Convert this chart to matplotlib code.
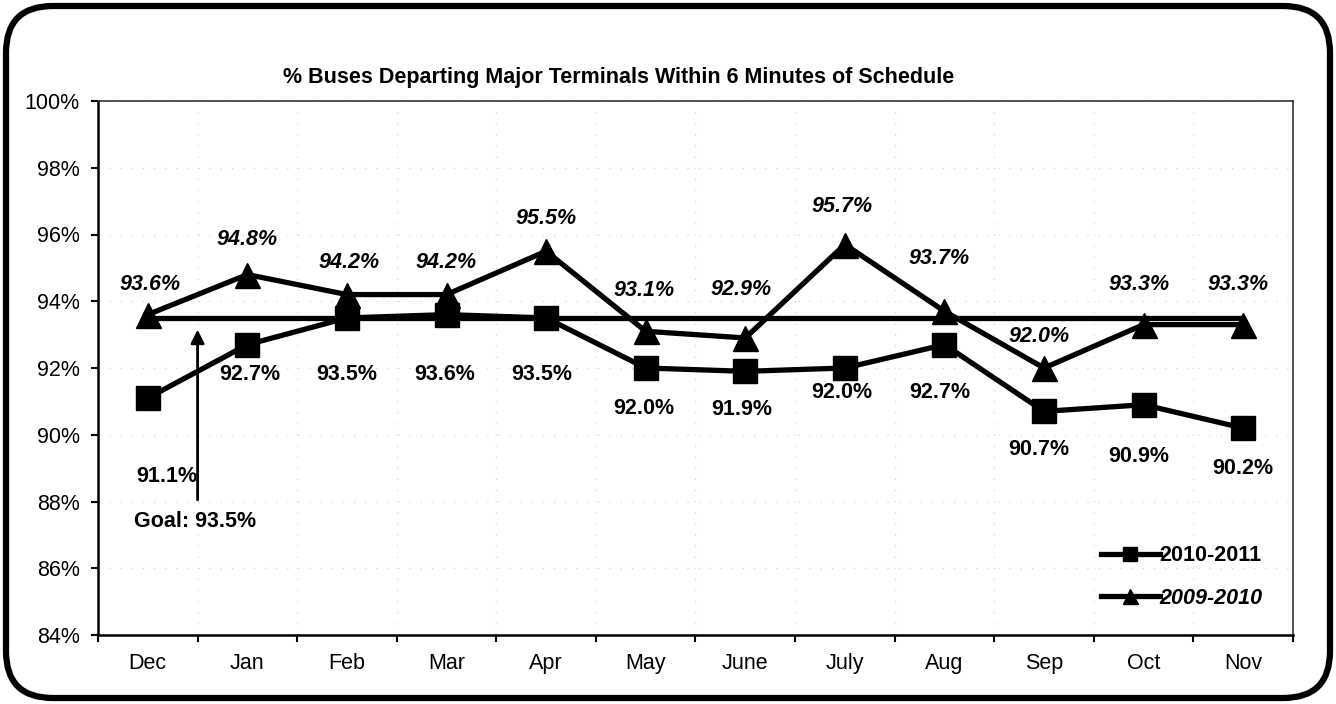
import numpy as np
import matplotlib
matplotlib.use("Agg")
import matplotlib.pyplot as plt
from matplotlib.patches import FancyBboxPatch

# ---- data ----
months = ["Dec", "Jan", "Feb", "Mar", "Apr", "May", "June", "July", "Aug", "Sep", "Oct", "Nov"]
s2010_2011 = [91.1, 92.7, 93.5, 93.6, 93.5, 92.0, 91.9, 92.0, 92.7, 90.7, 90.9, 90.2]
s2009_2010 = [93.6, 94.8, 94.2, 94.2, 95.5, 93.1, 92.9, 95.7, 93.7, 92.0, 93.3, 93.3]
goal = 93.5
yticks = [84, 86, 88, 90, 92, 94, 96, 98, 100]
title = "% Buses Departing Major Terminals Within 6 Minutes of Schedule"

# label offsets in pixels (layout only)
off_2010 = [(19, -78), (2, -30), (0, -57), (-2, -60), (-4, -57), (-2, -41),
            (-4, -38), (-3, -25), (-5, -48), (-5, -38), (-5, -52), (0, -40)]
off_2009 = [(2, 30), (0, 35), (2, 32), (0, 32), (0, 33), (-2, 41),
            (-4, 48), (-3, 38), (-5, 53), (-5, 32), (-5, 40), (-5, 40)]

FS = 15.5
plt.rcParams['font.family'] = ['Liberation Sans', 'DejaVu Sans']

fig = plt.figure(figsize=(13.36, 7.04), dpi=100)
fig.patch.set_facecolor('white')

# rounded border
border = FancyBboxPatch((6 / 1336, 6 / 704), 1324 / 1336, 692 / 704,
                        boxstyle="round,pad=0,rounding_size=0.035",
                        transform=fig.transFigure, fill=False,
                        edgecolor='black', linewidth=4.5, mutation_aspect=1336 / 704)
fig.patches.append(border)

ax = fig.add_axes([98 / 1336, 1 - 635 / 704, (1293 - 98) / 1336, (635 - 101) / 704])

x = np.arange(len(months))
ax.hlines(goal, x[0], x[-1], color='black', linewidth=3.8, zorder=3)
ax.plot(x, s2010_2011, color='black', linewidth=3.8, marker='s', markersize=17,
        label='2010-2011', zorder=4)
ax.plot(x, s2009_2010, color='black', linewidth=3.8, marker='^', markersize=18,
        label='2009-2010', zorder=4)

for xi, v, (dx, dy) in zip(x, s2010_2011, off_2010):
    ax.annotate(f"{v:.1f}%", (xi, v), xytext=(dx, dy), textcoords='offset pixels',
                ha='center', va='center', fontsize=FS, fontweight='bold')
for xi, v, (dx, dy) in zip(x, s2009_2010, off_2009):
    ax.annotate(f"{v:.1f}%", (xi, v), xytext=(dx, dy), textcoords='offset pixels',
                ha='center', va='center', fontsize=FS, fontweight='bold',
                fontstyle='italic')

# goal arrow + label
ax.annotate("", xy=(0.5, goal - 0.35), xytext=(0.5, 88.05),
            arrowprops=dict(arrowstyle='-|>', color='black', lw=2.0,
                            mutation_scale=20, shrinkA=0, shrinkB=0))
ax.text(0.47, 87.4, f"Goal: {goal}%", ha='center', va='center',
        fontsize=FS, fontweight='bold')

ax.set_xlim(-0.5, len(months) - 0.5)
ax.set_ylim(84, 100)
ax.set_yticks(yticks)
ax.set_yticklabels([f"{t}%" for t in yticks], fontsize=FS)
ax.set_xticks(np.arange(-0.5, len(months), 1))
ax.set_xticklabels([])
ax.set_xticks(x, minor=True)
ax.set_xticklabels(months, minor=True, fontsize=FS)
ax.tick_params(axis='x', which='minor', length=0, pad=13)
ax.tick_params(axis='x', which='major', length=5, width=1.5, direction='out')
ax.tick_params(axis='y', length=5, width=1.5, direction='out', pad=8)

ax.grid(True, which='major', color='#cfcfcf', linestyle=(0, (1, 9)), linewidth=0.8)
ax.set_axisbelow(True)

for s in ['left', 'bottom']:
    ax.spines[s].set_linewidth(1.8)
for s in ['top', 'right']:
    ax.spines[s].set_linestyle((0, (1, 1)))
    ax.spines[s].set_linewidth(1.2)
    ax.spines[s].set_color('#333333')

fig.text(619 / 1336, 1 - 77 / 704, title, ha='center', va='center',
         fontsize=FS, fontweight='bold')

leg = ax.legend(loc='center', bbox_to_anchor=(1182 / 1336, 1 - 577 / 704),
                bbox_transform=fig.transFigure, frameon=False, fontsize=FS,
                handlelength=2.7, handletextpad=0.0, labelspacing=1.0,
                markerscale=0.6)
for t in leg.get_texts():
    t.set_fontweight('bold')
leg.get_texts()[1].set_fontstyle('italic')

fig.savefig("out.png", dpi=100)
